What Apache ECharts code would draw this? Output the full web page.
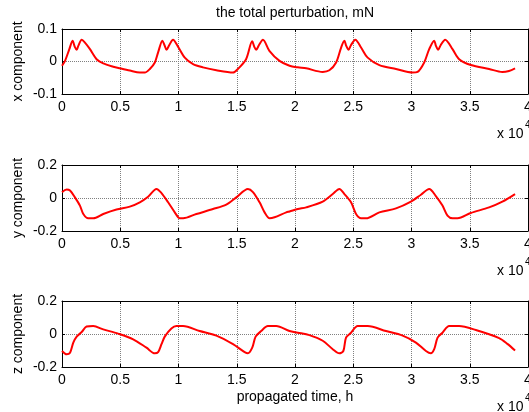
<!DOCTYPE html>
<html>
<head>
<meta charset="utf-8">
<script src="https://cdn.jsdelivr.net/npm/echarts@6/dist/echarts.min.js"></script>
<style>
  html, body { margin: 0; padding: 0; background: #fff; }
  #chart { width: 529px; height: 412px; }
</style>
</head>
<body>
<div id="chart"></div>
<script>
// time in units of 10^4 h
var xTime = [0, 0.026, 0.063, 0.091, 0.11, 0.126, 0.14, 0.169, 0.197, 0.24, 0.297, 0.354, 0.44, 0.497, 0.582, 0.668, 0.711, 0.754, 0.797, 0.825, 0.862, 0.88, 0.897, 0.92, 0.953, 0.997, 1.054, 1.125, 1.21, 1.325, 1.468, 1.51, 1.58, 1.633, 1.65, 1.667, 1.69, 1.725, 1.78, 1.867, 1.953, 2.024, 2.096, 2.238, 2.295, 2.353, 2.396, 2.424, 2.44, 2.46, 2.48, 2.518, 2.567, 2.624, 2.724, 2.867, 3.009, 3.052, 3.109, 3.152, 3.195, 3.21, 3.229, 3.25, 3.289, 3.352, 3.409, 3.509, 3.666, 3.78, 3.837, 3.889];
var xComp = [-0.013, 0.002, 0.038, 0.064, 0.045, 0.036, 0.048, 0.067, 0.058, 0.038, 0.007, -0.006, -0.016, -0.021, -0.028, -0.034, -0.034, -0.023, -0.003, 0.028, 0.064, 0.05, 0.036, 0.05, 0.067, 0.045, 0.012, -0.008, -0.018, -0.027, -0.034, -0.023, 0.007, 0.062, 0.046, 0.036, 0.05, 0.067, 0.033, 0.002, -0.013, -0.018, -0.021, -0.032, -0.027, -0.003, 0.043, 0.064, 0.048, 0.036, 0.05, 0.067, 0.043, 0.012, -0.011, -0.023, -0.034, -0.032, -0.003, 0.038, 0.064, 0.048, 0.036, 0.05, 0.067, 0.038, 0.007, -0.011, -0.023, -0.032, -0.029, -0.021];

var yTime = [0, 0.04, 0.069, 0.111, 0.154, 0.183, 0.225, 0.268, 0.354, 0.468, 0.582, 0.668, 0.739, 0.811, 0.854, 0.911, 0.968, 1.011, 1.04, 1.153, 1.296, 1.41, 1.496, 1.596, 1.639, 1.696, 1.739, 1.782, 1.824, 1.925, 1.953, 2.024, 2.096, 2.238, 2.324, 2.381, 2.424, 2.481, 2.524, 2.567, 2.61, 2.724, 2.867, 2.995, 3.081, 3.152, 3.209, 3.266, 3.309, 3.352, 3.395, 3.509, 3.666, 3.78, 3.889];
var yComp = [0.035, 0.051, 0.045, 0.004, -0.046, -0.097, -0.123, -0.123, -0.097, -0.07, -0.052, -0.026, 0.008, 0.055, 0.03, -0.026, -0.087, -0.123, -0.123, -0.097, -0.067, -0.04, 0.004, 0.055, 0.036, -0.026, -0.087, -0.123, -0.117, -0.087, -0.082, -0.067, -0.057, -0.022, 0.024, 0.055, 0.024, -0.026, -0.097, -0.123, -0.123, -0.087, -0.063, -0.022, 0.02, 0.055, 0.012, -0.046, -0.107, -0.123, -0.123, -0.091, -0.057, -0.022, 0.024];

var zTime = [0, 0.04, 0.069, 0.097, 0.126, 0.169, 0.211, 0.268, 0.354, 0.482, 0.611, 0.725, 0.797, 0.825, 0.854, 0.882, 0.939, 0.982, 1.039, 1.182, 1.325, 1.468, 1.568, 1.596, 1.633, 1.662, 1.71, 1.767, 1.839, 1.953, 2.024, 2.124, 2.238, 2.324, 2.381, 2.415, 2.438, 2.481, 2.538, 2.624, 2.781, 2.924, 3.038, 3.124, 3.166, 3.195, 3.224, 3.266, 3.323, 3.409, 3.552, 3.752, 3.823, 3.889];
var zComp = [-0.103, -0.123, -0.113, -0.052, -0.016, 0.012, 0.045, 0.048, 0.028, 0.002, -0.032, -0.083, -0.117, -0.11, -0.062, -0.016, 0.033, 0.048, 0.048, 0.018, -0.01, -0.062, -0.11, -0.117, -0.083, -0.016, 0.018, 0.048, 0.048, 0.018, 0.008, -0.007, -0.041, -0.092, -0.117, -0.103, -0.022, 0.008, 0.048, 0.048, 0.018, -0.01, -0.052, -0.103, -0.117, -0.092, -0.022, 0.008, 0.048, 0.048, 0.024, -0.025, -0.06, -0.1];

var panelNames = ['x component', 'y component', 'z component'];
var yLimits = [0.1, 0.2, 0.2];

var font = "'Liberation Sans', Arial, sans-serif";
var tops = [29, 165, 301];
var heights = [65, 66, 66];

function zip(t, v) {
    return t.map(function (tt, i) { return [tt, v[i]]; });
}
var seriesData = [zip(xTime, xComp), zip(yTime, yComp), zip(zTime, zComp)];

var grids = [], xAxes = [], yAxes = [], series = [], graphics = [];
for (var i = 0; i < 3; i++) {
    grids.push({ left: 62, top: tops[i], width: 466, height: heights[i], outerBoundsMode: 'none' });
    // bottom axis
    xAxes.push({
        gridIndex: i, type: 'value', min: 0, max: 4, interval: 0.5,
        axisLine: { show: true, onZero: false, lineStyle: { color: '#000', width: 1 } },
        axisTick: { show: true, inside: true, length: 3, lineStyle: { color: '#000' } },
        axisLabel: { color: '#000', fontSize: 14, fontFamily: font, margin: 6, showMaxLabel: true },
        splitLine: { show: true, lineStyle: { color: '#808080', type: [1, 1], width: 1 } }
    });
    // top axis (box)
    xAxes.push({
        gridIndex: i, type: 'value', min: 0, max: 4, interval: 0.5, position: 'top',
        axisLine: { show: true, onZero: false, lineStyle: { color: '#000', width: 1 } },
        axisTick: { show: true, inside: true, length: 3, lineStyle: { color: '#000' } },
        axisLabel: { show: false },
        splitLine: { show: false }
    });
    yAxes.push({
        gridIndex: i, type: 'value', min: -yLimits[i], max: yLimits[i], interval: yLimits[i],
        axisLine: { show: true, onZero: false, lineStyle: { color: '#000', width: 1 } },
        axisTick: { show: true, inside: true, length: 3, lineStyle: { color: '#000' } },
        axisLabel: { color: '#000', fontSize: 14, fontFamily: font, margin: 5 },
        splitLine: { show: true, lineStyle: { color: '#808080', type: [1, 1], width: 1 } }
    });
    yAxes.push({
        gridIndex: i, type: 'value', min: -yLimits[i], max: yLimits[i], interval: yLimits[i], position: 'right',
        axisLine: { show: true, onZero: false, lineStyle: { color: '#000', width: 1 } },
        axisTick: { show: true, inside: true, length: 3, lineStyle: { color: '#000' } },
        axisLabel: { show: false },
        splitLine: { show: false }
    });
    series.push({
        type: 'line', xAxisIndex: i * 2, yAxisIndex: i * 2,
        data: seriesData[i], showSymbol: false, smooth: 0.3,
        lineStyle: { color: '#ff0000', width: 2 }
    });
    // y label
    graphics.push({
        type: 'text', x: 18, y: tops[i] + heights[i] / 2, rotation: Math.PI / 2,
        style: { text: panelNames[i], font: '14px ' + font, fill: '#000', textAlign: 'center', textVerticalAlign: 'middle' }
    });
    // x 10^4 note
    var by = tops[i] + heights[i] + 40;
    graphics.push({
        type: 'text', x: 497, y: by,
        style: { text: 'x 10', font: '14px ' + font, fill: '#000', textAlign: 'left', textVerticalAlign: 'middle' }
    });
    graphics.push({
        type: 'text', x: 525, y: by - 9,
        style: { text: '4', font: '10px ' + font, fill: '#000', textAlign: 'left', textVerticalAlign: 'middle' }
    });
}

graphics.push({
    type: 'text', x: 295, y: 13,
    style: { text: 'the total perturbation, mN', font: '14px ' + font, fill: '#000', textAlign: 'center', textVerticalAlign: 'middle' }
});
graphics.push({
    type: 'text', x: 295, y: 397,
    style: { text: 'propagated time, h', font: '14px ' + font, fill: '#000', textAlign: 'center', textVerticalAlign: 'middle' }
});

var myChart = echarts.init(document.getElementById('chart'));
myChart.setOption({
    animation: false,
    backgroundColor: '#fff',
    grid: grids,
    xAxis: xAxes,
    yAxis: yAxes,
    series: series,
    graphic: graphics
});
</script>
</body>
</html>
